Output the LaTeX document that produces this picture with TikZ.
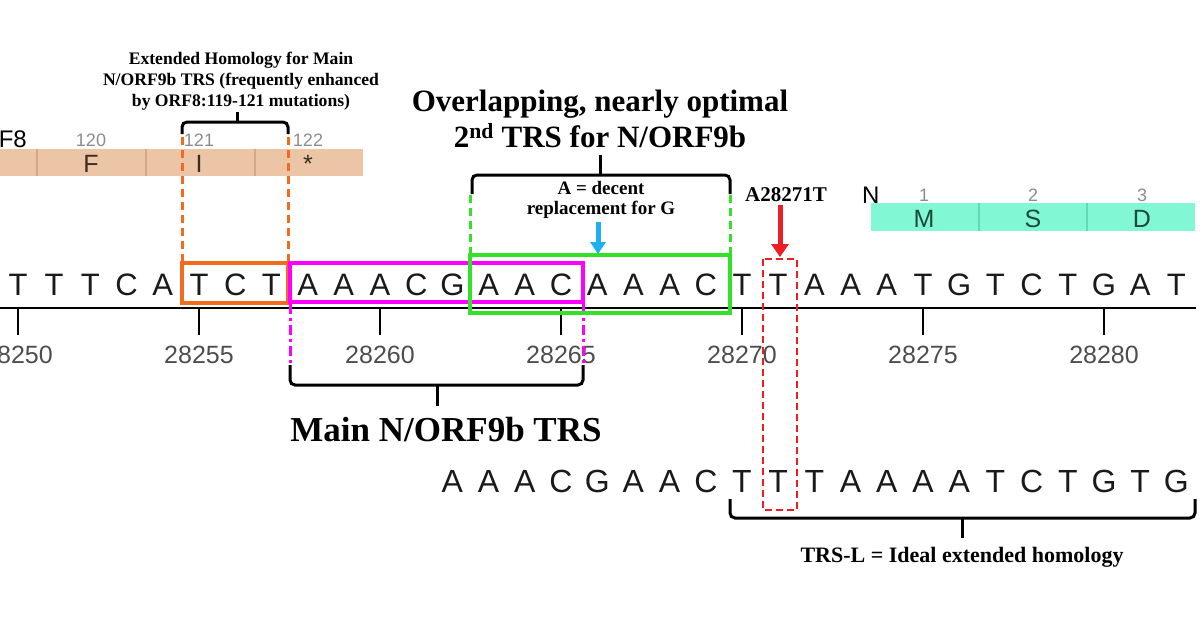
\documentclass[tikz,border=0pt]{standalone}
\usepackage{fontspec}
\setmainfont{Liberation Serif}
\newfontfamily\seqfont{Liberation Sans}
\usetikzlibrary{arrows.meta}
\definecolor{seqc}{HTML}{1A1A1A}
\definecolor{axc}{HTML}{4D4D4D}
\definecolor{smallc}{HTML}{8C8C8C}
\definecolor{orfbar}{HTML}{EBC5A5}
\definecolor{orfsep}{HTML}{D2A988}
\definecolor{orftxt}{HTML}{3A2E22}
\definecolor{nbar}{HTML}{82F7D3}
\definecolor{nsep}{HTML}{62D9B3}
\definecolor{ntxt}{HTML}{1B4A3A}
\definecolor{orangec}{HTML}{F26B1E}
\definecolor{magc}{HTML}{FF00FF}
\definecolor{greenc}{HTML}{33E02A}
\definecolor{redc}{HTML}{EE1D23}
\definecolor{bluec}{HTML}{1BB0F0}
\begin{document}
\begin{tikzpicture}[x=1pt,y=-1pt,
  seqletter/.style={font=\seqfont\fontsize{31}{37}\selectfont, text=seqc, anchor=base, inner sep=0pt},
  seqletterb/.style={font=\seqfont\fontsize{32}{38}\selectfont, text=seqc, anchor=base, inner sep=0pt},
  axnum/.style={font=\seqfont\fontsize{25}{30}\selectfont, text=axc, anchor=base, inner sep=0pt},
  smallnum/.style={font=\seqfont\fontsize{18}{22}\selectfont, text=smallc, anchor=base, inner sep=0pt},
  orfletter/.style={font=\seqfont\fontsize{25}{30}\selectfont, text=orftxt, anchor=base, inner sep=0pt},
  nletter/.style={font=\seqfont\fontsize{25}{30}\selectfont, text=ntxt, anchor=base, inner sep=0pt},
  genename/.style={font=\seqfont\fontsize{24}{28}\selectfont, text=black, anchor=base, inner sep=0pt},
  bracket/.style={line width=3pt, black, rounded corners=5pt},
  bracktick/.style={line width=3pt, black},
  axisline/.style={line width=2.5pt, black},
  hbox/.style={line width=4pt},
  guide/.style={line width=3pt, dash pattern=on 8pt off 5pt},
]
\useasboundingbox (0,0) rectangle (1200,635);

% gene bars
\fill[orfbar] (0,149) rectangle (363,176);
\foreach \sx in {37,146,255} \draw[orfsep, line width=1.2pt] (\sx,149) -- (\sx,176);
\fill[nbar] (871,203) rectangle (1195,231);
\foreach \sx in {979,1087} \draw[nsep, line width=1.2pt] (\sx,203) -- (\sx,231);

\node[genename, anchor=base east] (orf8name) at (27,147) {ORF8};
\node[smallnum] (c120) at (91,146) {120};
\node[smallnum] (c121) at (199,146) {121};
\node[smallnum] (c122) at (308,146) {122};
\node[orfletter] (aaF) at (91,172) {F};
\node[orfletter] (aaI) at (199,172) {I};
\node[orfletter] (aaS) at (308,172) {*};

\node[genename, anchor=base west] (nname) at (862,203) {N};
\node[smallnum] (n1) at (924,201) {1};
\node[smallnum] (n2) at (1033,201) {2};
\node[smallnum] (n3) at (1142,201) {3};
\node[nletter] (aaM) at (924,227) {M};
\node[nletter] (aaS2) at (1033,227) {S};
\node[nletter] (aaD) at (1142,227) {D};

% axis
\draw[axisline] (0,308) -- (1196,308);
\foreach \k [count=\j from 0] in {28250,28255,28260,28265,28270,28275,28280} {
  \draw[axisline] ({18+181*\j},308) -- ({18+181*\j},335);
  \node[axnum] (ax\j) at ({18+181*\j},363) {\k};
}

% top sequence
\foreach \l [count=\i from 0] in {T,T,T,C,A,T,C,T,A,A,A,C,G,A,A,C,A,A,A,C,T,T,A,A,A,T,G,T,C,T,G,A,T}
  \node[seqletter] (s\i) at ({18+36.2*\i},295) {\l};

% bottom sequence
\foreach \l [count=\i from 12] in {A,A,A,C,G,A,A,C,T,T,T,A,A,A,A,T,C,T,G,T,G}
  \node[seqletterb] (b\i) at ({18+36.2*\i},492) {\l};

% orange
\draw[orangec, guide] (182,137) -- (182,263);
\draw[orangec, guide] (288,137) -- (288,263);
\draw[orangec, line width=3.5pt] (182,263) rectangle (288,303);

% magenta
\draw[magc, hbox] (290,263) rectangle (583,302);
\draw[magc, line width=3pt, dash pattern=on 10pt off 4pt on 3pt off 4pt] (290,304) -- (290,366);
\draw[magc, line width=3pt, dash pattern=on 10pt off 4pt on 3pt off 4pt] (583,304) -- (583,366);

% green
\draw[greenc, guide] (470,195) -- (470,255);
\draw[greenc, guide] (730,195) -- (730,255);
\draw[greenc, hbox] (470,255) rectangle (730,313);

% red dashed box
\draw[redc, line width=2.6pt, dash pattern=on 7pt off 4pt] (763,259) rectangle (797,510);

% arrows
\coordinate (bluetop) at (598,222);
\coordinate (bluetip) at (598,254);
\draw[bluec, line width=5pt, -{Triangle[width=15pt,length=12pt]}] (bluetop) -- (bluetip);
\coordinate (redtop) at (780,205);
\coordinate (redtip) at (780,257);
\draw[redc, line width=5pt, -{Triangle[width=17pt,length=13pt]}] (redtop) -- (redtip);

% brackets
\draw[bracket] (182,134) -- (182,122) -- (288,122) -- (288,134);
\draw[bracktick] (237,123) -- (237,112);
\draw[bracket] (472,194) -- (472,175) -- (730,175) -- (730,194);
\draw[bracktick] (600,176) -- (600,155);
\draw[bracket] (290,365) -- (290,385) -- (583,385) -- (583,365);
\draw[bracktick] (437,384) -- (437,406);
\draw[bracket] (730,499) -- (730,518) -- (1195,518) -- (1195,499);
\draw[bracktick] (962,517) -- (962,538);

% labels
\node[font=\bfseries\fontsize{17.6}{21}\selectfont, align=center, inner sep=0pt] (exthom) at (241,81)
  {Extended Homology for Main\\N/ORF9b TRS (frequently enhanced\\by ORF8:119-121 mutations)};
\node[font=\bfseries\fontsize{31}{36}\selectfont, align=center, inner sep=0pt] (overlap) at (600,119)
  {Overlapping, nearly optimal\\2\textsuperscript{nd} TRS for N/ORF9b};
\node[font=\bfseries\fontsize{19}{20.5}\selectfont, align=center, inner sep=0pt] (decent) at (601,200)
  {A = decent\\replacement for G};
\node[font=\bfseries\fontsize{21}{24}\selectfont, inner sep=0pt] (mut) at (786,195) {A28271T};
\node[font=\bfseries\fontsize{35}{40}\selectfont, inner sep=0pt] (maintrs) at (446,430) {Main N/ORF9b TRS};
\node[font=\bfseries\fontsize{22}{26}\selectfont, inner sep=0pt] (trsl) at (962,557) {TRS-L = Ideal extended homology};
\end{tikzpicture}
\end{document}
